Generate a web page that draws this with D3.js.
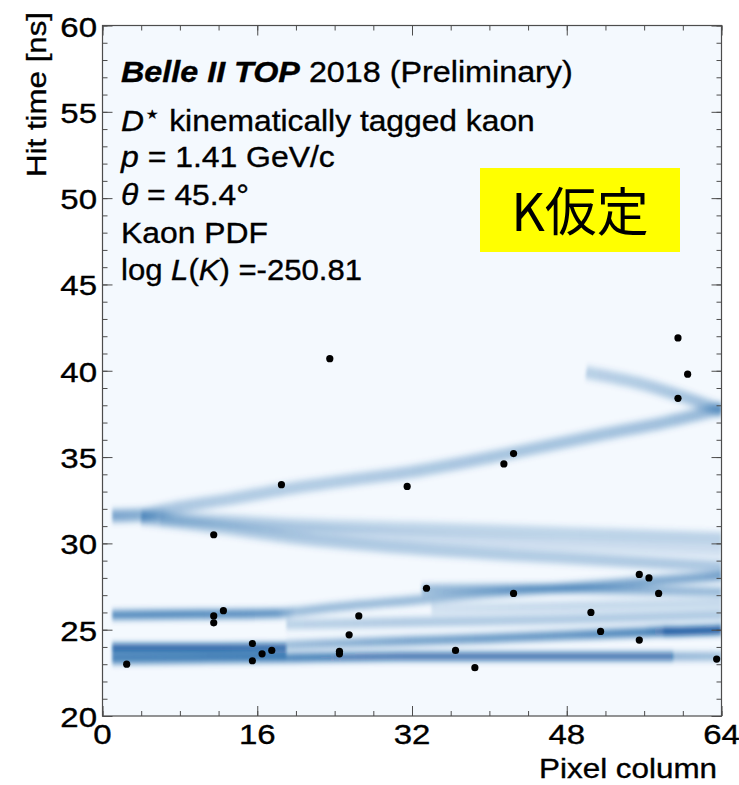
<!DOCTYPE html>
<html>
<head>
<meta charset="utf-8">
<script src="https://cdn.jsdelivr.net/npm/d3@7"></script>
<style>
  html, body { margin: 0; padding: 0; background: #ffffff; }
  svg { display: block; font-family: "Liberation Sans", Arial, Helvetica, sans-serif; }
  .ink { stroke: #000; stroke-width: 0.35; }
</style>
</head>
<body>
<svg id="chart" width="739" height="785"></svg>
<script>
// ---- Axis ticks ----
const xTicks = [0, 16, 32, 48, 64];
const yTicks = [20, 25, 30, 35, 40, 45, 50, 55, 60];

// ---- Observed photon hits: pixel column and hit time [ns] ----
const hitCol  = [2.5, 11.5, 11.5, 11.5, 12.5, 15.5, 15.5, 16.5, 17.5, 18.5, 23.5, 24.5, 24.5, 25.5, 26.5, 31.5,
                 33.5, 36.5, 38.5, 41.5, 42.5, 42.5, 50.5, 51.5, 55.5, 56.5, 57.5, 55.5, 59.5, 60.5, 59.5, 63.5];
const hitTime = [23.0, 30.5, 25.8, 25.4, 26.1, 24.2, 23.2, 23.6, 23.8, 33.4, 40.7, 23.6, 23.75, 24.7, 25.8, 33.3,
                 27.4, 23.8, 22.8, 34.6, 35.2, 27.1, 26.0, 24.9, 28.2, 28.0, 27.1, 24.4, 41.9, 39.8, 38.4, 23.3];

// ---- Kaon PDF ridges: [pixel column, time (ns), relative density] ----
const ridgeFlat233 = [[1, 23.25, .7], [10, 23.3, .7], [18, 23.35, .75], [22, 23.4, .8], [32, 23.45, .85],
                      [44, 23.45, .85], [58.9, 23.45, .85], [59.1, 23.45, .45], [64, 23.45, .4]];
const ridgeFill236 = [[1, 23.65, .55], [10, 23.65, .55], [19, 23.65, .5]];
const ridgeDark240 = [[1, 24.0, 1], [12, 24.0, 1], [19, 24.02, .95]];
const ridgeRise250 = [[19, 24.1, .4], [24, 24.2, .45], [32, 24.35, .55], [40, 24.5, .6], [48, 24.68, .65],
                      [56, 24.85, .75], [57.9, 24.9, .85], [58.1, 24.9, 1], [64, 25.0, 1]];
const ridgeRise259 = [[1, 25.85, .7], [10, 25.9, .7], [18, 25.95, .65], [20, 26.05, .4], [24, 26.3, .4],
                      [32, 26.7, .4], [40, 27.1, .4], [48, 27.45, .45], [56, 27.8, .5], [64, 28.1, .55]];
const ridgeFaint255 = [[19, 25.3, .25], [32, 25.45, .3], [48, 25.6, .3], [64, 25.85, .3]];
const ridgeLate273  = [[33, 27.35, .4], [44, 27.4, .45], [54, 27.3, .45], [64, 27.2, .4]];
const ridgeLate262  = [[34, 26.2, .15], [48, 26.35, .2], [64, 26.55, .2]];
const ridgeArmUp    = [[1, 31.6, .5], [4, 31.65, .45], [7, 32.0, .3], [13, 32.55, .28], [18, 33.05, .28],
                       [24, 33.55, .28], [32, 34.15, .3], [42, 35.2, .32], [52, 36.35, .33], [58, 37.0, .35], [64, 37.8, .4]];
const ridgeArmMid   = [[4, 31.55, .25], [12, 31.35, .22], [20, 31.1, .22], [32, 30.9, .22], [48, 30.6, .22], [64, 30.3, .24]];
const ridgeArmInner = [[6, 31.4, .12], [16, 30.95, .15], [32, 30.35, .16], [48, 29.95, .16], [64, 29.6, .16]];
const ridgeArmLow   = [[4, 31.45, .25], [12, 30.9, .25], [20, 30.3, .28], [32, 29.7, .28], [48, 29.15, .28], [64, 28.65, .3]];
const ridgeArmTop   = [[50, 39.9, .25], [56, 39.2, .28], [60, 38.5, .32], [64, 37.7, .38]];

// ridge widths in ns, same order as the ridge list below
const ridgeWidth = [0.45, 0.55, 0.35, 0.5, 0.5, 0.55, 0.5, 0.6, 0.7, 0.7, 0.7, 0.7, 0.7];

const ridges = [ridgeFlat233, ridgeFill236, ridgeDark240, ridgeRise250, ridgeRise259, ridgeFaint255,
                ridgeLate273, ridgeLate262, ridgeArmUp, ridgeArmMid, ridgeArmInner, ridgeArmLow, ridgeArmTop];

// ---- Layout ----
const svg = d3.select("#chart");
const x = d3.scaleLinear().domain([0, 64]).range([102.5, 721.5]);
const y = d3.scaleLinear().domain([20, 60]).range([716, 25.5]);
const frameColor = "#4d4d4d";
const inkBlue = "#08519c";

const defs = svg.append("defs");
defs.append("clipPath").attr("id", "plotClip").append("rect")
  .attr("x", x(0)).attr("y", y(60))
  .attr("width", x(64) - x(0)).attr("height", y(20) - y(60));
const soft = defs.append("filter").attr("id", "soft")
  .attr("filterUnits", "userSpaceOnUse")
  .attr("x", 80).attr("y", 0).attr("width", 680).attr("height", 760);
soft.append("feGaussianBlur").attr("stdDeviation", "1.6 3");

// plot background (lowest PDF level)
svg.append("rect")
  .attr("x", x(0)).attr("y", y(60))
  .attr("width", x(64) - x(0)).attr("height", y(20) - y(60))
  .attr("fill", "#f4f9fe");

// ---- PDF ridges ----
const pdfLayer = svg.append("g").attr("clip-path", "url(#plotClip)")
  .append("g").attr("filter", "url(#soft)");

const ridgeLine = d3.line()
  .x(d => x(d[0]))
  .y(d => y(d[1]))
  .curve(d3.curveMonotoneX);

ridges.forEach((pts, i) => {
  const grad = defs.append("linearGradient")
    .attr("id", "ridge" + i)
    .attr("gradientUnits", "userSpaceOnUse")
    .attr("x1", x(0)).attr("x2", x(64)).attr("y1", 0).attr("y2", 0);
  pts.forEach(p => {
    grad.append("stop")
      .attr("offset", (x(p[0]) - x(0)) / (x(64) - x(0)))
      .attr("stop-color", inkBlue)
      .attr("stop-opacity", p[2]);
  });
  pdfLayer.append("path")
    .attr("d", ridgeLine(pts))
    .attr("fill", "none")
    .attr("stroke", `url(#ridge${i})`)
    .attr("stroke-width", y(20) - y(20 + ridgeWidth[i]))
    .attr("stroke-linecap", "butt");
});

// ---- Hits ----
svg.append("g").selectAll("circle")
  .data(hitCol.map((c, i) => [c, hitTime[i]]))
  .join("circle")
  .attr("cx", d => x(d[0]))
  .attr("cy", d => y(d[1]))
  .attr("r", 3.6)
  .attr("fill", "#000");

// ---- Axes (ticks drawn inward on all four sides) ----
function tickGroup(axis, transform) {
  const g = svg.append("g").attr("transform", transform).call(axis);
  g.select(".domain").remove();
  g.selectAll("text").remove();
  g.selectAll("line").attr("stroke", frameColor).attr("stroke-width", 1);
}
const xMinor = d3.range(0, 65, 4);
const yMinor = d3.range(20, 61, 1);
tickGroup(d3.axisBottom(x).tickValues(xMinor).tickSize(-5), `translate(0,${y(20)})`);
tickGroup(d3.axisBottom(x).tickValues(xTicks).tickSize(-10), `translate(0,${y(20)})`);
tickGroup(d3.axisTop(x).tickValues(xMinor).tickSize(-5), `translate(0,${y(60)})`);
tickGroup(d3.axisTop(x).tickValues(xTicks).tickSize(-10), `translate(0,${y(60)})`);
tickGroup(d3.axisLeft(y).tickValues(yMinor).tickSize(-5), `translate(${x(0)},0)`);
tickGroup(d3.axisLeft(y).tickValues(yTicks).tickSize(-10), `translate(${x(0)},0)`);
tickGroup(d3.axisRight(y).tickValues(yMinor).tickSize(-5), `translate(${x(64)},0)`);
tickGroup(d3.axisRight(y).tickValues(yTicks).tickSize(-10), `translate(${x(64)},0)`);

svg.append("rect")
  .attr("x", x(0)).attr("y", y(60))
  .attr("width", x(64) - x(0)).attr("height", y(20) - y(60))
  .attr("fill", "none").attr("stroke", frameColor).attr("stroke-width", 1.2);

// tick labels (wide Helvetica-like glyphs)
const tickScale = 1.2;
svg.append("g").selectAll("text").data(xTicks).join("text")
  .attr("class", "ink")
  .attr("transform", d => `translate(${x(d)},744) scale(${tickScale},1)`)
  .attr("text-anchor", "middle").attr("font-size", 27.5).attr("fill", "#000")
  .text(d => d);
svg.append("g").selectAll("text").data(yTicks).join("text")
  .attr("class", "ink")
  .attr("transform", d => `translate(97,${y(d) + 11}) scale(${tickScale},1)`)
  .attr("text-anchor", "end").attr("font-size", 27.5).attr("fill", "#000")
  .text(d => d);

// text helper: builds a line from styled parts and stretches it to a given width
function textLine(x0, y0, parts, width, size, opts = {}) {
  const t = svg.append("text").attr("class", "ink").attr("font-size", size).attr("fill", "#000")
    .attr("text-anchor", opts.anchor || "start");
  parts.forEach(p => {
    const s = t.append("tspan").text(p.t);
    if (p.b) s.attr("font-weight", "bold");
    if (p.i) s.attr("font-style", "italic");
    if (p.size) s.attr("font-size", p.size);
    if (p.dy) s.attr("dy", p.dy);
    if (p.font) s.attr("font-family", p.font);
  });
  const w = t.node().getBBox().width;
  const k = width / w;
  t.attr("transform", `translate(${x0},${y0})${opts.rotate ? " rotate(" + opts.rotate + ")" : ""} scale(${k},1)`);
  return t;
}

// axis titles
textLine(46, 12, [{ t: "Hit time [ns]" }], 165, 28, { anchor: "end", rotate: -90 });
textLine(717, 778, [{ t: "Pixel column" }], 178, 27, { anchor: "end" });

// info block
const infoX = 121;
textLine(infoX, 82, [{ t: "Belle II TOP", b: true, i: true }, { t: " 2018 (Preliminary)" }], 452, 29);
textLine(infoX, 131, [{ t: "D", i: true }, { t: "\u22C6", size: 24, dy: -9, font: "DejaVu Sans" },
                      { t: " kinematically tagged kaon", dy: 9 }], 414, 29);
textLine(infoX, 167, [{ t: "p", i: true }, { t: " = 1.41 GeV/c" }], 215, 29);
textLine(infoX, 205, [{ t: "\u03B8", i: true }, { t: " = 45.4\u00B0" }], 128, 29);
textLine(infoX, 243, [{ t: "Kaon PDF" }], 147, 29);
textLine(infoX, 280, [{ t: "log " }, { t: "L", i: true }, { t: "(" }, { t: "K", i: true }, { t: ") =-250.81" }], 241, 29);

// hypothesis tag
svg.append("rect").attr("x", 480).attr("y", 168).attr("width", 200).attr("height", 84).attr("fill", "#ffff00");
svg.append("text")
  .attr("x", 580).attr("y", 231)
  .attr("text-anchor", "middle")
  .attr("font-family", "'Noto Sans CJK JP', sans-serif")
  .attr("font-size", 52).attr("fill", "#000")
  .text("K仮定");
</script>
</body>
</html>
